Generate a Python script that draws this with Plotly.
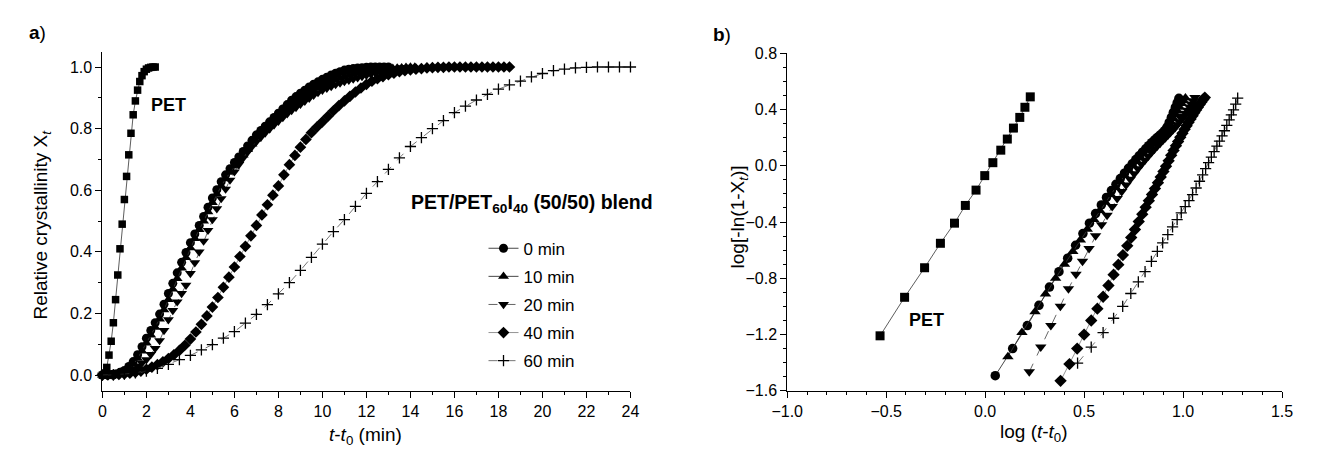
import plotly.graph_objects as go

W, H = 1334, 457
OFF = 8  # page body margin of the browser page

# ---------------- Panel a) data : relative crystallinity vs t - t0 ----------------
pet_t = [0.0, 0.1, 0.2, 0.3, 0.4, 0.5, 0.6, 0.7, 0.8, 0.9, 1.0, 1.1, 1.2, 1.3, 1.4, 1.5,
         1.6, 1.7, 1.8, 1.9, 2.0, 2.1, 2.2, 2.3, 2.4]
pet_x = [0.0, 0.005, 0.025, 0.065, 0.11, 0.17, 0.245, 0.325, 0.41, 0.49, 0.57, 0.645, 0.715,
         0.785, 0.845, 0.89, 0.925, 0.953, 0.972, 0.985, 0.993, 0.997, 0.999, 1.0, 1.0]

m0_t = [0.0, 0.2, 0.4, 0.6, 0.8, 1.0, 1.2, 1.4, 1.6, 1.8, 2.0, 2.2, 2.4, 2.6, 2.8, 3.0, 3.2,
        3.4, 3.6, 3.8, 4.0, 4.2, 4.4, 4.6, 4.8, 5.0, 5.2, 5.4, 5.6, 5.8, 6.0, 6.2, 6.4, 6.6,
        6.8, 7.0, 7.2, 7.4, 7.6, 7.8, 8.0, 8.2, 8.4, 8.6, 8.8, 9.0, 9.2, 9.4, 9.6, 9.8, 10.0,
        10.2, 10.4, 10.6, 10.8, 11.0, 11.2, 11.4, 11.6, 11.8, 12.0, 12.2, 12.4, 12.6, 12.8, 13.0]
m0_x = [0.0, 0.001, 0.002, 0.004, 0.009, 0.015, 0.028, 0.044, 0.066, 0.092, 0.12, 0.145, 0.17,
        0.198, 0.23, 0.265, 0.298, 0.332, 0.366, 0.398, 0.43, 0.458, 0.486, 0.515, 0.545, 0.575,
        0.602, 0.628, 0.65, 0.67, 0.69, 0.708, 0.726, 0.744, 0.762, 0.78, 0.794, 0.808, 0.822,
        0.836, 0.85, 0.864, 0.878, 0.892, 0.904, 0.915, 0.925, 0.935, 0.944, 0.952, 0.96, 0.967,
        0.974, 0.98, 0.985, 0.99, 0.993, 0.995, 0.997, 0.998, 0.999, 1.0, 1.0, 1.0, 1.0, 1.0]

m10_t = [0.0, 0.2, 0.4, 0.6, 0.8, 1.0, 1.2, 1.4, 1.6, 1.8, 2.0, 2.2, 2.4, 2.6, 2.8, 3.0, 3.2,
         3.4, 3.6, 3.8, 4.0, 4.2, 4.4, 4.6, 4.8, 5.0, 5.2, 5.4, 5.6, 5.8, 6.0, 6.2, 6.4, 6.6,
         6.8, 7.0, 7.2, 7.4, 7.6, 7.8, 8.0, 8.2, 8.4, 8.6, 8.8, 9.0, 9.2, 9.4, 9.6, 9.8, 10.0,
         10.2, 10.4, 10.6, 10.8, 11.0, 11.2, 11.4, 11.6, 11.8, 12.0, 12.2, 12.4, 12.6, 12.8,
         13.0, 13.2, 13.4, 13.6, 13.8, 14.0, 14.2]
m10_x = [0.0, 0.0005, 0.001, 0.003, 0.006, 0.011, 0.02, 0.035, 0.054, 0.078, 0.104, 0.13, 0.155,
         0.182, 0.212, 0.245, 0.279, 0.313, 0.347, 0.381, 0.413, 0.443, 0.472, 0.5, 0.53, 0.56,
         0.588, 0.614, 0.637, 0.658, 0.678, 0.696, 0.714, 0.732, 0.75, 0.767, 0.781, 0.795,
         0.809, 0.822, 0.835, 0.847, 0.859, 0.871, 0.882, 0.893, 0.903, 0.913, 0.922, 0.931,
         0.939, 0.946, 0.953, 0.959, 0.964, 0.969, 0.973, 0.977, 0.98, 0.983, 0.986, 0.988,
         0.99, 0.992, 0.994, 0.995, 0.996, 0.997, 0.998, 0.999, 1.0, 1.0]

m20_t = [0.0, 0.2, 0.4, 0.6, 0.8, 1.0, 1.2, 1.4, 1.6, 1.8, 2.0, 2.2, 2.4, 2.6, 2.8, 3.0, 3.2,
         3.4, 3.6, 3.8, 4.0, 4.2, 4.4, 4.6, 4.8, 5.0, 5.2, 5.4, 5.6, 5.8, 6.0, 6.2, 6.4, 6.6,
         6.8, 7.0, 7.2, 7.4, 7.6, 7.8, 8.0, 8.2, 8.4, 8.6, 8.8, 9.0, 9.2, 9.4, 9.6, 9.8, 10.0,
         10.2, 10.4, 10.6, 10.8, 11.0, 11.2, 11.4, 11.6, 11.8, 12.0, 12.2, 12.4, 12.6, 12.8,
         13.0, 13.2, 13.4, 13.6, 13.8, 14.0]
m20_x = [0.0, 0.0005, 0.001, 0.002, 0.004, 0.006, 0.012, 0.02, 0.03, 0.039, 0.05, 0.067, 0.087,
         0.112, 0.145, 0.18, 0.21, 0.238, 0.265, 0.292, 0.33, 0.365, 0.4, 0.435, 0.47, 0.505,
         0.54, 0.573, 0.604, 0.633, 0.66, 0.683, 0.705, 0.724, 0.742, 0.758, 0.772, 0.786,
         0.799, 0.812, 0.824, 0.836, 0.848, 0.859, 0.869, 0.879, 0.889, 0.899, 0.908, 0.917,
         0.925, 0.931, 0.937, 0.943, 0.948, 0.953, 0.957, 0.961, 0.965, 0.969, 0.973, 0.977,
         0.981, 0.985, 0.988, 0.991, 0.994, 0.996, 0.998, 0.999, 1.0]

m40_t = [0.0, 0.25, 0.5, 0.75, 1.0, 1.25, 1.5, 1.75, 2.0, 2.25, 2.5, 2.75, 3.0, 3.25, 3.5, 3.75,
         4.0, 4.25, 4.5, 4.75, 5.0, 5.25, 5.5, 5.75, 6.0, 6.25, 6.5, 6.75, 7.0, 7.25, 7.5, 7.75,
         8.0, 8.25, 8.5, 8.75, 9.0, 9.25, 9.5, 9.75, 10.0, 10.25, 10.5, 10.75, 11.0, 11.25, 11.5,
         11.75, 12.0, 12.25, 12.5, 12.75, 13.0, 13.25, 13.5, 13.75, 14.0, 14.25, 14.5, 14.75,
         15.0, 15.25, 15.5, 15.75, 16.0, 16.25, 16.5, 16.75, 17.0, 17.25, 17.5, 17.75, 18.0,
         18.25, 18.5]
m40_x = [0.0, 0.0005, 0.001, 0.002, 0.004, 0.006, 0.009, 0.013, 0.019, 0.026, 0.034, 0.043,
         0.054, 0.066, 0.08, 0.097, 0.117, 0.14, 0.165, 0.192, 0.221, 0.252, 0.285, 0.318,
         0.351, 0.385, 0.418, 0.452, 0.486, 0.52, 0.553, 0.584, 0.614, 0.65, 0.683, 0.713,
         0.74, 0.765, 0.787, 0.805, 0.822, 0.84, 0.858, 0.875, 0.89, 0.905, 0.919, 0.932,
         0.944, 0.954, 0.962, 0.969, 0.975, 0.98, 0.985, 0.988, 0.991, 0.993, 0.995, 0.997,
         0.998, 0.999, 0.999, 1.0, 1.0, 1.0, 1.0, 1.0, 1.0, 1.0, 1.0, 1.0, 1.0, 1.0, 1.0]

m60_t = [0.0, 0.5, 1.0, 1.5, 2.0, 2.5, 3.0, 3.5, 4.0, 4.5, 5.0, 5.5, 6.0, 6.5, 7.0, 7.5, 8.0,
         8.5, 9.0, 9.5, 10.0, 10.5, 11.0, 11.5, 12.0, 12.5, 13.0, 13.5, 14.0, 14.5, 15.0, 15.5,
         16.0, 16.5, 17.0, 17.5, 18.0, 18.5, 19.0, 19.5, 20.0, 20.5, 21.0, 21.5, 22.0, 22.5,
         23.0, 23.5, 24.0]
m60_x = [0.0, 0.001, 0.003, 0.007, 0.013, 0.022, 0.035, 0.05, 0.064, 0.082, 0.099, 0.12, 0.141,
         0.169, 0.197, 0.229, 0.264, 0.3, 0.34, 0.382, 0.425, 0.466, 0.505, 0.548, 0.59, 0.628,
         0.668, 0.705, 0.742, 0.771, 0.8, 0.826, 0.852, 0.873, 0.893, 0.911, 0.928, 0.942,
         0.954, 0.968, 0.979, 0.988, 0.993, 0.997, 0.999, 1.0, 1.0, 1.0, 1.0]

# ---------------- Panel b) data : Avrami plot ----------------
pet_logt = [-0.531, -0.407, -0.306, -0.226, -0.155, -0.100, -0.046, -0.002, 0.039, 0.079,
            0.112, 0.143, 0.175, 0.201, 0.228]
pet_logk = [-1.209, -0.935, -0.725, -0.551, -0.408, -0.282, -0.173, -0.070, 0.022, 0.111,
            0.190, 0.268, 0.344, 0.416, 0.490]

b0_logt = [0.051, 0.139, 0.213, 0.272, 0.325, 0.373, 0.417, 0.457, 0.494, 0.527, 0.558, 0.587,
           0.613, 0.638, 0.661, 0.683, 0.704, 0.724, 0.743, 0.761, 0.778, 0.795, 0.811, 0.826,
           0.841, 0.855, 0.869, 0.882, 0.895, 0.907, 0.919, 0.930, 0.941, 0.951, 0.961, 0.970,
           0.979]
b0_logk = [-1.492, -1.300, -1.136, -0.992, -0.862, -0.753, -0.657, -0.565, -0.482, -0.408,
           -0.340, -0.278, -0.225, -0.176, -0.132, -0.091, -0.053, -0.018, 0.014, 0.044, 0.071,
           0.097, 0.121, 0.143, 0.164, 0.183, 0.201, 0.217, 0.233, 0.250, 0.275, 0.308, 0.345,
           0.380, 0.415, 0.447, 0.480]

b10_logt = [0.115, 0.186, 0.252, 0.305, 0.356, 0.401, 0.443, 0.481, 0.516, 0.549, 0.579, 0.607,
            0.634, 0.659, 0.682, 0.704, 0.725, 0.745, 0.764, 0.782, 0.799, 0.816, 0.832, 0.847,
            0.862, 0.876, 0.890, 0.903, 0.916, 0.928, 0.940, 0.951, 0.962, 0.972, 0.982, 0.992,
            1.002, 1.012]
b10_logk = [-1.358, -1.186, -1.038, -0.912, -0.800, -0.700, -0.610, -0.527, -0.452, -0.382,
            -0.318, -0.259, -0.204, -0.155, -0.111, -0.070, -0.032, 0.003, 0.035, 0.064, 0.091,
            0.117, 0.141, 0.163, 0.184, 0.203, 0.222, 0.240, 0.258, 0.283, 0.310, 0.337, 0.364,
            0.390, 0.416, 0.442, 0.462, 0.482]

b20_logt = [0.223, 0.281, 0.332, 0.380, 0.421, 0.459, 0.492, 0.525, 0.558, 0.588, 0.616, 0.642,
            0.667, 0.690, 0.712, 0.733, 0.753, 0.772, 0.790, 0.807, 0.824, 0.840, 0.855, 0.870,
            0.884, 0.898, 0.911, 0.924, 0.936, 0.948, 0.960, 0.971, 0.982, 0.993, 1.003, 1.013,
            1.023, 1.033, 1.042, 1.051, 1.060]
b20_logk = [-1.465, -1.289, -1.136, -0.999, -0.874, -0.771, -0.679, -0.588, -0.497, -0.420,
            -0.352, -0.290, -0.233, -0.183, -0.137, -0.095, -0.057, -0.022, 0.010, 0.040, 0.068,
            0.094, 0.118, 0.140, 0.161, 0.181, 0.200, 0.218, 0.236, 0.254, 0.273, 0.292, 0.312,
            0.332, 0.352, 0.373, 0.395, 0.418, 0.440, 0.462, 0.485]

b40_logt = [0.381, 0.426, 0.465, 0.500, 0.536, 0.567, 0.596, 0.623, 0.649, 0.673, 0.696, 0.718,
            0.738, 0.757, 0.776, 0.794, 0.811, 0.827, 0.843, 0.858, 0.873, 0.887, 0.901, 0.914,
            0.927, 0.940, 0.952, 0.964, 0.975, 0.986, 0.997, 1.008, 1.018, 1.028, 1.038, 1.048,
            1.057, 1.066, 1.075, 1.084, 1.093, 1.102, 1.110]
b40_logk = [-1.529, -1.410, -1.300, -1.200, -1.100, -1.016, -0.931, -0.851, -0.774, -0.703,
            -0.635, -0.569, -0.510, -0.453, -0.397, -0.344, -0.294, -0.248, -0.204, -0.162,
            -0.120, -0.080, -0.041, -0.003, 0.035, 0.074, 0.109, 0.143, 0.173, 0.203, 0.231,
            0.260, 0.284, 0.309, 0.332, 0.356, 0.377, 0.397, 0.416, 0.435, 0.453, 0.471, 0.485]

b60_logt = [0.467, 0.536, 0.596, 0.649, 0.695, 0.736, 0.774, 0.808, 0.840, 0.870, 0.897, 0.923,
            0.947, 0.970, 0.991, 1.011, 1.030, 1.048, 1.066, 1.083, 1.099, 1.114, 1.129, 1.143,
            1.157, 1.171, 1.184, 1.197, 1.209, 1.221, 1.233, 1.244, 1.255, 1.266, 1.276]
b60_logk = [-1.403, -1.289, -1.186, -1.084, -0.999, -0.908, -0.826, -0.752, -0.680, -0.609,
            -0.548, -0.490, -0.435, -0.383, -0.335, -0.290, -0.248, -0.205, -0.158, -0.110,
            -0.064, -0.020, 0.023, 0.062, 0.101, 0.140, 0.176, 0.213, 0.249, 0.287, 0.326,
            0.362, 0.398, 0.438, 0.481]

series_names = ["0 min", "10 min", "20 min", "40 min", "60 min"]
left_t = [m0_t, m10_t, m20_t, m40_t, m60_t]
left_x = [m0_x, m10_x, m20_x, m40_x, m60_x]
right_t = [b0_logt, b10_logt, b20_logt, b40_logt, b60_logt]
right_k = [b0_logk, b10_logk, b20_logk, b40_logk, b60_logk]

xa_ticks = [0, 2, 4, 6, 8, 10, 12, 14, 16, 18, 20, 22, 24]
ya_ticks = [0.0, 0.2, 0.4, 0.6, 0.8, 1.0]
xb_ticks = [-1.0, -0.5, 0.0, 0.5, 1.0, 1.5]
yb_ticks = [-1.6, -1.2, -0.8, -0.4, 0.0, 0.4, 0.8]

# ---------------- styling ----------------
FONT = "Liberation Sans, Arial, sans-serif"
symbols = ["circle", "triangle-up", "triangle-down", "diamond", "cross-thin"]
sizes_l = [9, 9.5, 9.5, 9, 8]
sizes_r = [9.5, 10, 10, 9.5, 8]
dashes = ["solid", "solid", "dash", "solid", "dash"]
lcolors = ["#333333", "#333333", "#555555", "#888888", "#666666"]


def PX(x):  # screen pixel -> paper x
    return (x - OFF) / W


def PY(y):  # screen pixel -> paper y
    return 1 - (y - OFF) / H


fig = go.Figure()


def mk(sym, size):
    if sym == "cross-thin":
        return dict(symbol=sym, size=size, color="black", line=dict(color="black", width=1.3))
    return dict(symbol=sym, size=size, color="black", line=dict(width=0))


# panel a
fig.add_trace(go.Scatter(x=pet_t, y=pet_x, mode="lines+markers", name="PET", showlegend=False,
                         marker=mk("square", 7.5), line=dict(color="#333333", width=0.8),
                         cliponaxis=False, xaxis="x", yaxis="y"))
for i in range(5):
    fig.add_trace(go.Scatter(x=left_t[i], y=left_x[i], mode="lines+markers", name=series_names[i],
                             legendgroup=series_names[i],
                             marker=mk(symbols[i], sizes_l[i]),
                             line=dict(color=lcolors[i], width=0.9, dash=dashes[i]),
                             cliponaxis=False, xaxis="x", yaxis="y"))
# panel b
fig.add_trace(go.Scatter(x=pet_logt, y=pet_logk, mode="lines+markers", showlegend=False,
                         marker=mk("square", 9), line=dict(color="#333333", width=0.8),
                         cliponaxis=False, xaxis="x2", yaxis="y2"))
for i in range(5):
    fig.add_trace(go.Scatter(x=right_t[i], y=right_k[i], mode="lines+markers", showlegend=False,
                             name=series_names[i],
                             marker=mk(symbols[i], sizes_r[i]),
                             line=dict(color=lcolors[i], width=0.9, dash=dashes[i]),
                             cliponaxis=False, xaxis="x2", yaxis="y2"))

axis_common = dict(showline=True, linecolor="black", linewidth=1, ticks="outside", ticklen=6,
                   tickwidth=1, tickcolor="black", showgrid=False, zeroline=False, mirror=False,
                   tickfont=dict(family=FONT, size=16, color="black"))
minor_common = dict(ticks="outside", ticklen=3, tickcolor="black", showgrid=False)

fig.update_layout(
    width=W, height=H, margin=dict(l=0, r=0, t=0, b=0),
    paper_bgcolor="white", plot_bgcolor="white",
    font=dict(family=FONT, color="black"),
    xaxis=dict(domain=[PX(88), PX(627)], range=[0, 24], tickvals=xa_ticks,
               minor=dict(dtick=1, **minor_common), anchor="y", **axis_common),
    yaxis=dict(domain=[PY(397), PY(45)], range=[-0.05, 1.05], tickvals=ya_ticks,
               tickformat=".1f", minor=dict(dtick=0.1, tick0=0, **minor_common),
               anchor="x", **axis_common),
    xaxis2=dict(domain=[PX(787), PX(1292)], range=[-1.0, 1.5], tickvals=xb_ticks,
                tickformat=".1f", minor=dict(dtick=0.1, tick0=0, **minor_common),
                anchor="y2", **axis_common),
    yaxis2=dict(domain=[PY(397.3), PY(46.7)], range=[-1.6, 0.8], tickvals=yb_ticks,
                tickformat=".1f", minor=dict(dtick=0.1, tick0=0, **minor_common),
                anchor="x2", **axis_common),
    legend=dict(x=PX(477), y=PY(231), xanchor="left", yanchor="top",
                bgcolor="rgba(0,0,0,0)", borderwidth=0, tracegroupgap=3,
                font=dict(family=FONT, size=17, color="black")),
)


def ann(text, x, y, size, angle=0, xanchor="center"):
    fig.add_annotation(text=text, x=PX(x), y=PY(y), xref="paper", yref="paper",
                       showarrow=False, textangle=angle, xanchor=xanchor, yanchor="middle",
                       font=dict(family=FONT, size=size, color="black"))


ann("<b>a</b>)", 22, 25, 19)
ann("<b>b</b>)", 720, 27, 19)
ann("<b>PET</b>", 155, 100, 18)
ann("<b>PET</b>", 929, 324, 18)
ann("<b>PET/PET<sub>60</sub>I<sub>40</sub> (50/50) blend</b>", 401, 203, 19.5, xanchor="left")
ann("<i>t</i>-<i>t</i><sub>0</sub> (min)", 357, 444, 19)
ann("log (<i>t</i>-<i>t</i><sub>0</sub>)", 1039, 441, 19)
ann("Relative crystallinity X<sub><i>t</i></sub>", 26, 225, 19, angle=-90)
ann("log[-ln(1-X<sub><i>t</i></sub>)]", 738, 217, 19, angle=-90)

fig.write_html("out.html")
